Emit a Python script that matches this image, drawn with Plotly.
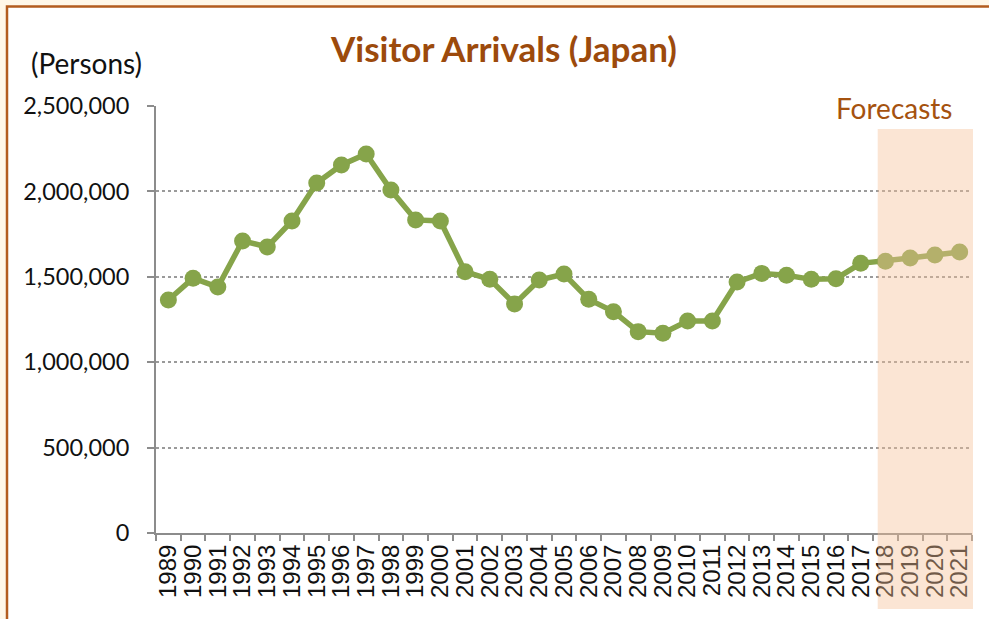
import plotly.graph_objects as go

years = [str(y) for y in range(1989, 2022)]
arrivals = [1364000, 1492000, 1440000, 1710000, 1675000, 1827000, 2049000, 2155000,
            2219000, 2008000, 1833000, 1827000, 1530000, 1485000, 1341000, 1481000,
            1516000, 1368000, 1296000, 1179000, 1169000, 1241000, 1241000, 1470000,
            1520000, 1509000, 1485000, 1489000, 1579000, 1591000, 1610000, 1628000,
            1645000]
y_ticks = [0, 500000, 1000000, 1500000, 2000000, 2500000]
y_tick_text = ["0", "500,000", "1,000,000", "1,500,000", "2,000,000", "2,500,000"]

W, H = 989, 619
L, R, T, B = 156, 17, 106, 86
PW, PH = W - L - R, H - T - B

def px(x):
    return (x - L) / PW

def py(y):
    return (H - B - y) / PH

fig = go.Figure()
fig.add_trace(go.Scatter(
    x=years, y=arrivals, mode="lines+markers",
    line=dict(color="#86a44a", width=5.5),
    marker=dict(color="#86a44a", size=17),
    hoverinfo="skip", showlegend=False,
))

fig.update_layout(
    width=W, height=H,
    margin=dict(l=L, r=R, t=T, b=B),
    paper_bgcolor="#fff7e8",
    plot_bgcolor="rgba(0,0,0,0)",
    font=dict(family="Lato", color="#111111"),
    title=dict(text="<b>Visitor Arrivals (Japan)</b>", x=504 / W, y=1 - 50 / H,
               xanchor="center", yanchor="middle",
               font=dict(family="Lato", size=35, color="#9c4a0c")),
    xaxis=dict(type="category", range=[-0.5, 32.5], showline=True, linecolor="#8c8c8c",
               linewidth=2, ticks="outside", tickson="boundaries", ticklen=6,
               tickcolor="#8c8c8c", tickwidth=2, tickangle=-90, showgrid=False,
               tickmode="array", tickvals=years, ticktext=years,
               tickfont=dict(family="Liberation Sans", size=24, color="#111111")),
    yaxis=dict(range=[0, 2500000], tickvals=y_ticks, ticktext=y_tick_text,
               showline=True, linecolor="#8c8c8c", linewidth=2, ticks="outside",
               ticklen=7, tickcolor="#8c8c8c", tickwidth=2, showgrid=True,
               gridcolor="#9a9a9a", gridwidth=2, griddash="dot", zeroline=False,
               ticklabelstandoff=13,
               tickfont=dict(family="Lato", size=23.5, color="#111111")),
    shapes=[
        dict(type="rect", xref="paper", yref="paper", layer="below",
             x0=px(7), x1=px(1000), y0=py(640), y1=py(6.5),
             fillcolor="white", line=dict(color="#b35c1e", width=2.5)),
        dict(type="rect", xref="paper", yref="paper", layer="above",
             x0=px(877.7), x1=px(973), y0=py(609), y1=py(129),
             fillcolor="rgba(245,193,152,0.42)", line=dict(width=0)),
    ],
    annotations=[
        dict(text="(Persons)", xref="paper", yref="paper", x=px(86), y=py(63),
             xanchor="center", yanchor="middle", showarrow=False,
             font=dict(family="Lato", size=28, color="#111111")),
        dict(text="Forecasts", xref="paper", yref="paper", x=px(894), y=py(108),
             xanchor="center", yanchor="middle", showarrow=False,
             font=dict(family="Lato", size=28, color="#a5520f")),
    ],
)

fig.write_html("out.html", config={"displayModeBar": False},
               post_script="document.body.style.margin='0px';")
